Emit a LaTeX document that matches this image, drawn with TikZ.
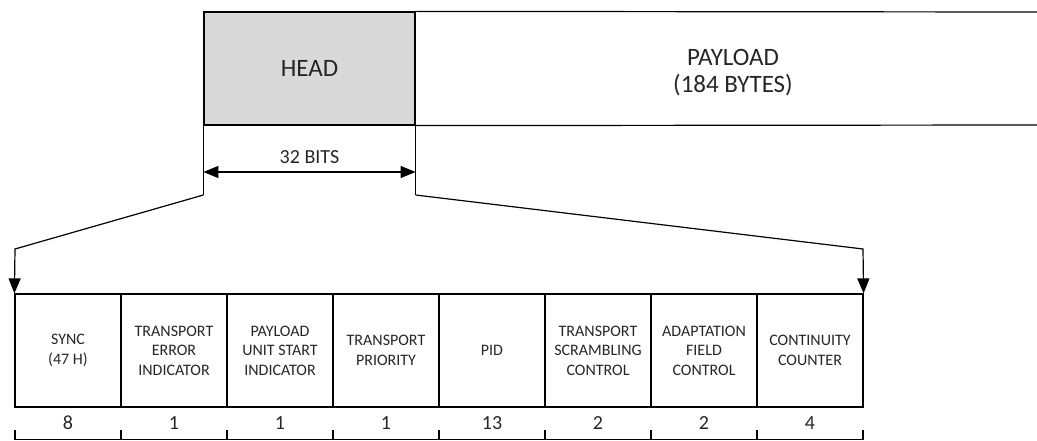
\documentclass[tikz,border=0pt]{standalone}
\usepackage{fontspec}
\setmainfont{Carlito}
\usetikzlibrary{arrows.meta}
\tikzset{
  field/.style={draw, line width=1.2pt, minimum width=106pt, minimum height=113pt,
    inner sep=0pt, align=center, font=\fontsize{16}{19.5}\selectfont, text=black!85},
  tip/.style={-{Triangle[length=15pt,width=12pt]}},
}
\begin{document}
\begin{tikzpicture}[x=1pt, y=-1pt, line width=1.2pt]
  \useasboundingbox (0,0) rectangle (1037,441);
  % packet: head and payload
  \node[draw, fill=black!15, minimum width=211pt, minimum height=113pt, inner sep=0pt,
        font=\fontsize{25}{28}\selectfont, text=black!85] (head) at (309.5,68.5) {HEAD};
  \coordinate (plnorth) at (1037,12);
  \coordinate (plsouth) at (1037,125);
  \draw (head.north east) -- (plnorth);
  \draw (head.south east) -- (plsouth);
  \node[align=center, font=\fontsize{25}{27}\selectfont, text=black!85] (payload)
        at (733,73) {PAYLOAD\\(184 BYTES)};
  % header fields
  \foreach \i/\txt/\n in {1/{SYNC\\(47 H)}/8, 2/{TRANSPORT\\ERROR\\INDICATOR}/1,
      3/{PAYLOAD\\UNIT START\\INDICATOR}/1, 4/{TRANSPORT\\PRIORITY}/1, 5/{PID}/13,
      6/{TRANSPORT\\SCRAMBLING\\CONTROL}/2, 7/{ADAPTATION\\FIELD\\CONTROL}/2,
      8/{CONTINUITY\\COUNTER}/4}{
    \node[field] (f\i) at ({68+(\i-1)*106},350.5) {\txt};
    \node[font=\fontsize{20}{22}\selectfont, text=black!85] (n\i) at ({68+(\i-1)*106},423) {\n};
  }
  % bit scale
  \coordinate (sl) at (15,439.5);
  \coordinate (sr) at (863,439.5);
  \draw (sl) -- (sr);
  \foreach \i in {0,...,8}{
    \draw ({15+\i*106},430) -- ({15+\i*106},439.5);
  }
  % 32 bits span
  \coordinate (hl) at (head.south west |- 0,195);
  \coordinate (hr) at (head.south east |- 0,195);
  \draw (head.south west) -- (hl);
  \draw (head.south east) -- (hr);
  \draw[{Triangle[length=15pt,width=12pt]}-{Triangle[length=15pt,width=12pt]}]
    (head.south west |- 0,172) -- node[above=4pt, font=\fontsize{20}{22}\selectfont,
    text=black!85] {32 BITS} (head.south east |- 0,172);
  % expansion lines
  \draw[tip] (hl) -- (15,249) -- (f1.north west);
  \draw[tip] (hr) -- (863,249) -- (f8.north east);
\end{tikzpicture}
\end{document}
